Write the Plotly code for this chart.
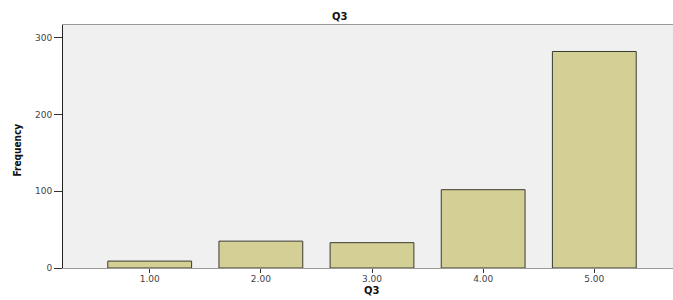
import plotly.graph_objects as go

categories = ["1.00", "2.00", "3.00", "4.00", "5.00"]
frequencies = [9, 35, 33, 102, 282]
y_ticks = [0, 100, 200, 300]

W, H = 681, 300
L, T, B, R = 63, 25, 32, 0

fig = go.Figure()
fig.add_trace(go.Bar(
    x=categories, y=frequencies,
    marker=dict(color="#d4cf94", line=dict(color="#3a3a30", width=1)),
    width=0.754,
))

def px_x(p):
    return (p - L) / (W - L - R)

def px_y(p):
    return 1 - (p - T) / (H - T - B)

tick_font = dict(family="DejaVu Sans, sans-serif", size=9, color="#444444")

fig.update_layout(
    width=W, height=H,
    margin=dict(l=L, r=R, t=T, b=B),
    paper_bgcolor="white",
    plot_bgcolor="#f0f0f0",
    showlegend=False,
    font=dict(family="Liberation Sans, Arial, sans-serif", size=8, color="#333333"),
    xaxis=dict(
        range=[-0.78, 4.78],
        showline=True, linecolor="#999999", linewidth=1, mirror=True,
        ticks="outside", ticklen=4, tickcolor="#333333",
        ticklabelstandoff=-2,
        showgrid=False, zeroline=False,
        tickfont=tick_font,
    ),
    yaxis=dict(
        range=[0, 316.5],
        tickvals=y_ticks,
        showline=True, linecolor="#222222", linewidth=1,
        ticks="outside", ticklen=8, tickcolor="#333333",
        showgrid=False, zeroline=False,
        tickfont=tick_font,
    ),
    annotations=[
        dict(text="<b>Q3</b>", x=px_x(340), y=px_y(17), xref="paper", yref="paper",
             showarrow=False, font=dict(family="DejaVu Sans, sans-serif", size=10, color="#111111"),
             xanchor="center", yanchor="middle"),
        dict(text="<b>Q3</b>", x=px_x(372), y=px_y(290), xref="paper", yref="paper",
             showarrow=False, font=dict(family="DejaVu Sans, sans-serif", size=10, color="#111111"),
             xanchor="center", yanchor="middle"),
        dict(text="<b>Frequency</b>", x=px_x(16.5), y=px_y(150), xref="paper", yref="paper",
             showarrow=False, textangle=-90,
             font=dict(family="Liberation Sans Narrow, DejaVu Sans Condensed, sans-serif", size=10, color="#111111"),
             xanchor="center", yanchor="middle"),
    ],
)

fig.write_html(
    "out.html",
    config={"displayModeBar": False},
    post_script="document.body.style.margin='0';document.body.style.overflow='hidden';",
)
